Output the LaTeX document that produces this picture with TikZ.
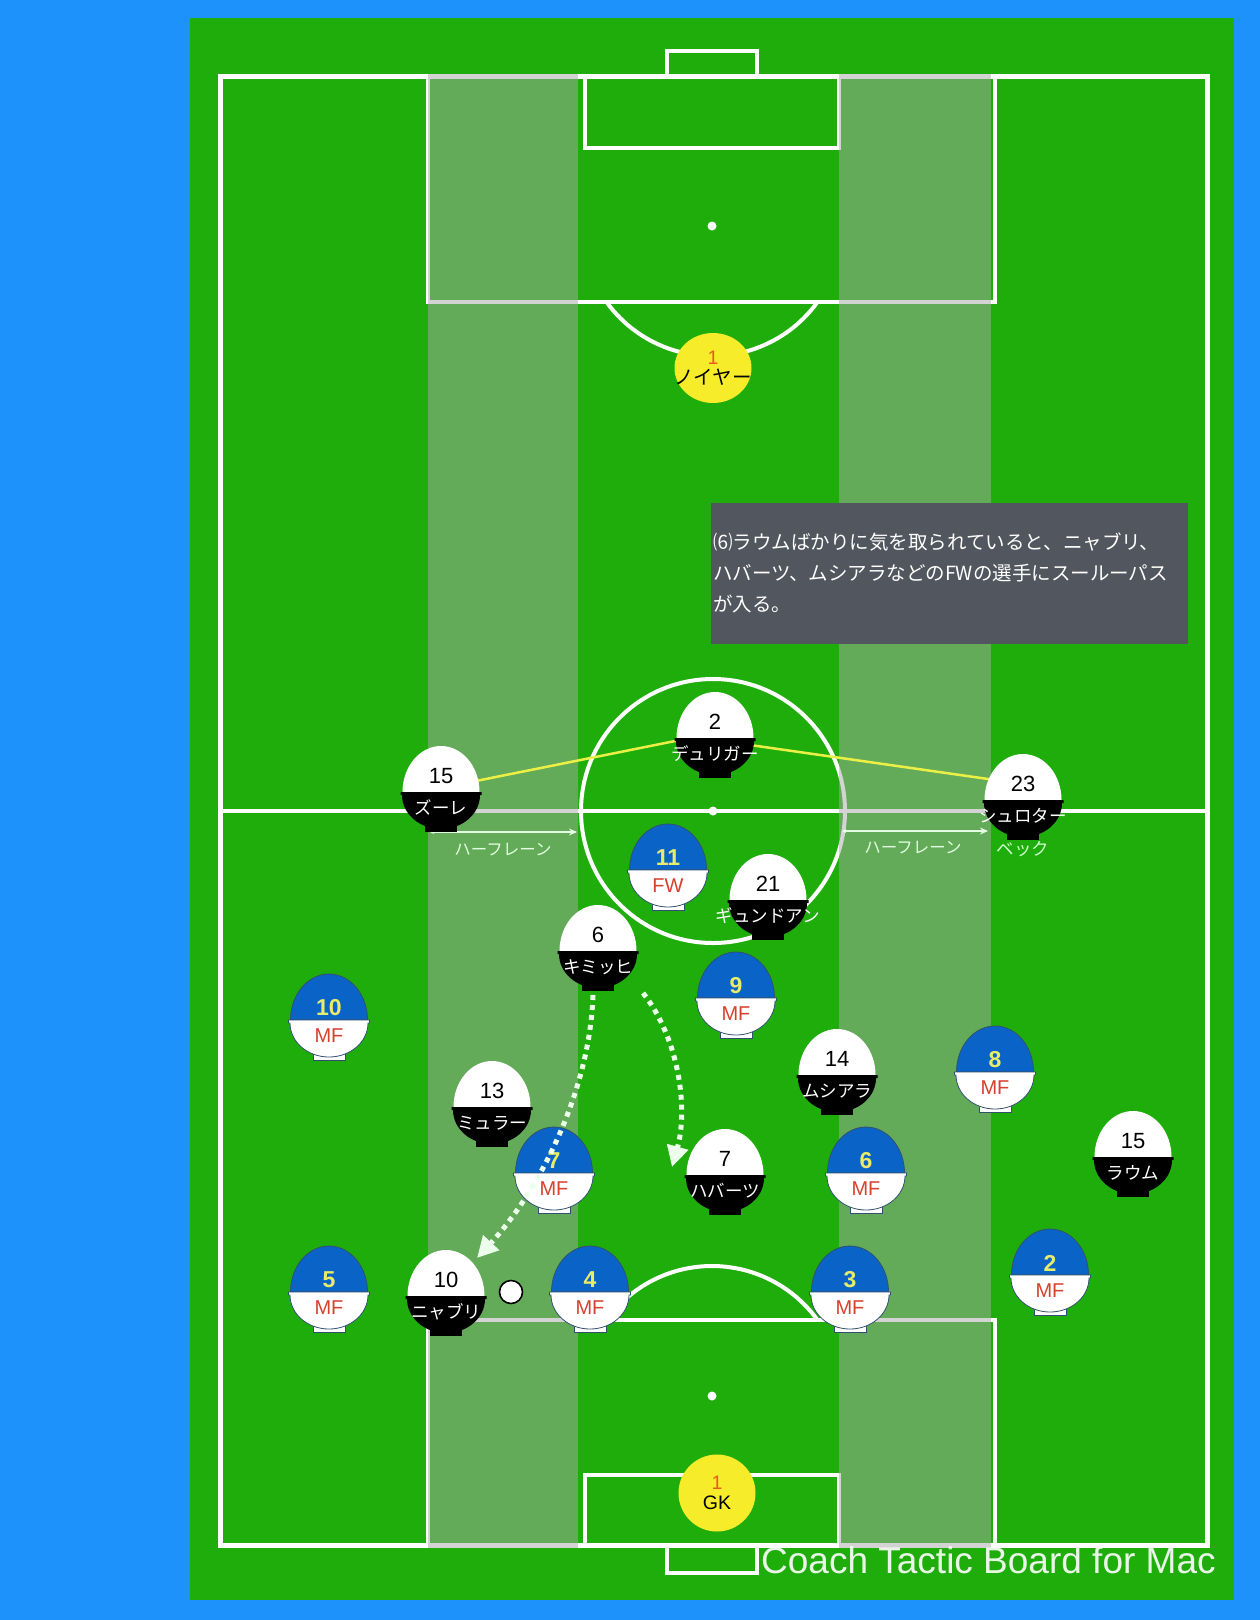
\documentclass[tikz,border=0pt]{standalone}
\usepackage{fontspec}
\setmainfont{Liberation Sans}
\newfontfamily\jp{Noto Sans CJK JP}
\usetikzlibrary{arrows.meta}

\definecolor{board}{RGB}{28,146,250}
\definecolor{pitch}{RGB}{31,173,11}
\definecolor{lanegrey}{RGB}{168,168,168}
\definecolor{teamblue}{RGB}{10,100,200}
\definecolor{tokenedge}{RGB}{50,80,110}
\definecolor{numyellow}{RGB}{232,236,104}
\definecolor{posred}{RGB}{214,64,44}
\definecolor{keeperyellow}{RGB}{246,236,42}
\definecolor{keeperred}{RGB}{232,90,30}
\definecolor{notegrey}{RGB}{82,86,94}
\definecolor{linkyellow}{RGB}{236,240,70}

% bowl shaped player token, #1 = coordinate on the rim
\newcommand\tokenbody[4]{%
  \path[fill=#2,draw=#4,line width=0.8pt] ([xshift=38.5pt]#1) arc[start angle=0,end angle=180,x radius=38.5pt,y radius=46pt] -- cycle;
  \path[fill=#3,draw=#4,line width=0.8pt] ([shift={(-16pt,-31pt)}]#1) rectangle ([shift={(16pt,-40pt)}]#1);
  \path[fill=#3,draw=#4,line width=0.8pt] ([xshift=-40.5pt]#1) -- ([xshift=40.5pt]#1) -- ([shift={(40.5pt,-3pt)}]#1)
    -- ([shift={(39pt,-3pt)}]#1) arc[start angle=0,end angle=-180,x radius=39pt,y radius=34pt] -- ([shift={(-40.5pt,-3pt)}]#1) -- cycle;
}
\newcommand\opponent[4]{%
  \coordinate (#1) at #2;
  \tokenbody{#1}{white}{black}{none}
  \node[oppnum] (#1-num) at ([yshift=16pt]#1) {#3};
  \node[oppname] (#1-name) at ([yshift=-22pt]#1) {#4};
}
\newcommand\teammate[4]{%
  \coordinate (#1) at #2;
  \tokenbody{#1}{teamblue}{white}{tokenedge}
  \node[ownnum] (#1-num) at ([yshift=12pt]#1) {#3};
  \node[ownpos] (#1-pos) at ([yshift=-16pt]#1) {#4};
}

\begin{document}
\begin{tikzpicture}[x=1pt,y=-1pt,
    fieldline/.style={draw=white,line width=4pt},
    halflane/.style={fill=lanegrey,opacity=0.5},
    notebox/.style={fill=notegrey,text=white,minimum width=477pt,minimum height=141pt,
      text width=473pt,inner xsep=2pt,align=left,font=\jp\fontsize{19.5}{31}\selectfont},
    oppnum/.style={inner sep=0pt,text=black,font=\fontsize{22}{24}\selectfont},
    oppname/.style={inner sep=0pt,anchor=base,text=white,font=\jp\fontsize{17.5}{27}\selectfont},
    ownnum/.style={inner sep=0pt,text=numyellow,font=\bfseries\fontsize{23}{24}\selectfont},
    ownpos/.style={inner sep=0pt,text=posred,font=\fontsize{20}{22}\selectfont},
    keepertext/.style={inner sep=0pt,align=center,font=\fontsize{19.5}{20}\selectfont},
    matchball/.style={circle,draw=black,fill=white,line width=1.6pt,minimum size=23pt,inner sep=0pt},
    linkline/.style={draw=linkyellow,line width=2.5pt},
    lanearrow/.style={draw=white!90!green,line width=1.3pt,{Stealth[length=4pt,width=4pt]}-{Stealth[length=8pt,width=7pt]}},
    lanelabel/.style={inner sep=0pt,text=white!88!green,font=\jp\fontsize{16.5}{18}\selectfont},
    passarrow/.style={draw=white!92!green,line width=5pt,dash pattern=on 5pt off 5pt,-{Triangle[length=21pt,width=21pt]}},
    credit/.style={inner sep=0pt,anchor=base west,text=white,text opacity=0.9,font=\fontsize{37}{40}\selectfont}]
  \useasboundingbox (0,0) rectangle (1260,1620);
  % board and pitch
  \fill[board] (0,0) rectangle (1260,1620);
  \fill[pitch] (190,18) rectangle (1234,1600);
  % markings
  \coordinate (topspot) at (712,226);
  \coordinate (botspot) at (712,1396);
  \coordinate (centre) at (713,811);
  \draw[fieldline,line width=5pt] (220,76.5) rectangle (1207,1545);
  \draw[fieldline,line width=3.5pt] (667,76.5) -- (667,51) -- (757,51) -- (757,76.5);
  \draw[fieldline,line width=3.5pt] (667,1545) -- (667,1573) -- (757,1573) -- (757,1545);
  \draw[fieldline] (428,76.5) rectangle (995,302);
  \draw[fieldline] (585,76.5) rectangle (839,148);
  \draw[fieldline] (428,1545) rectangle (995,1320);
  \draw[fieldline] (585,1545) rectangle (839,1475);
  \draw[fieldline] ([shift={(-36:130pt)}]topspot) arc[start angle=-36,end angle=-144,radius=130pt];
  \draw[fieldline] ([shift={(36:130pt)}]botspot) arc[start angle=36,end angle=144,radius=130pt];
  \draw[fieldline] (220,811) -- (1207,811);
  \draw[fieldline] (centre) circle[radius=132pt];
  \fill[white] (topspot) circle[radius=4.5pt];
  \fill[white] (botspot) circle[radius=4.5pt];
  \fill[white] (centre) circle[radius=4.5pt];
  % half lanes
  \fill[halflane] (428,74) rectangle (578,1548);
  \fill[halflane] (839,74) rectangle (991,1548);
  % note
  \node[notebox] (note) at (949.5,573) {⑹ラウムばかりに気を取られていると、ニャブリ、\\ハバーツ、ムシアラなどのFWの選手にスールーパス\\が入る。};
  % lane widths
  \coordinate (laneL-a) at (430,832);
  \coordinate (laneL-b) at (577,832);
  \coordinate (laneR-a) at (842,831);
  \coordinate (laneR-b) at (988,831);
  \draw[lanearrow] (laneL-a) -- (laneL-b);
  \draw[lanearrow] (laneR-a) -- (laneR-b);
  \node[lanelabel] (laneL) at (503,850) {ハーフレーン};
  \node[lanelabel] (laneR) at (913,848) {ハーフレーン};
  % back line links
  \coordinate (zure) at (441,792);
  \coordinate (duri) at (715,738);
  \coordinate (schl) at (1023,800);
  \draw[linkline] ([yshift=4pt]zure) -- ([yshift=5pt]duri);
  \draw[linkline] ([yshift=-2pt]duri) -- ([yshift=16pt]schl);
  % keepers
  \fill[keeperyellow] (713,368) ellipse[x radius=38.5pt,y radius=35pt];
  \node[keepertext] (neuer) at (713,368) {\textcolor{keeperred}{1}\\{\jp ノイヤー}};
  \fill[keeperyellow] (717,1493) circle[radius=38.5pt];
  \node[keepertext] (gk) at (717,1493) {\textcolor{keeperred}{1}\\GK};
  % opponents
  \opponent{zure}{(441,792)}{15}{ズーレ}
  \opponent{duri}{(715,738)}{2}{デュリガー}
  \opponent{schl}{(1023,800)}{23}{シュロター}
  \node[oppname,text=white!80!green] (schl-name2) at ([yshift=-55pt]schl) {ベック};
  \opponent{gund}{(768,900)}{21}{ギュンドアン}
  \opponent{kimm}{(598,951)}{6}{キミッヒ}
  \opponent{musi}{(837,1075)}{14}{ムシアラ}
  \opponent{muel}{(492,1107)}{13}{ミュラー}
  \opponent{havr}{(725,1175)}{7}{ハバーツ}
  \opponent{raum}{(1133,1157)}{15}{ラウム}
  \opponent{gnab}{(446,1296)}{10}{ニャブリ}
  % own team
  \teammate{fw11}{(668,870)}{11}{FW}
  \teammate{mf9}{(736,998)}{9}{MF}
  \teammate{mf10}{(329,1020)}{10}{MF}
  \teammate{mf8}{(995,1072)}{8}{MF}
  \teammate{mf7}{(554,1173)}{7}{MF}
  \teammate{mf6}{(866,1173)}{6}{MF}
  \teammate{mf2}{(1050,1275)}{2}{MF}
  \teammate{mf5}{(329,1292)}{5}{MF}
  \teammate{mf4}{(590,1292)}{4}{MF}
  \teammate{mf3}{(850,1292)}{3}{MF}
  \node[matchball] (ball) at (511,1292) {};
  % passes
  \draw[passarrow] ([shift={(-5pt,-44pt)}]kimm) .. controls +(-3,95) and +(63,-68) .. ([shift={(31pt,38pt)}]gnab);
  \draw[passarrow] ([shift={(45pt,-42pt)}]kimm) .. controls +(37,47) and +(16,-57) .. ([shift={(-53pt,8pt)}]havr);
  % watermark
  \node[credit] (credit) at (761,1573) {Coach Tactic Board for Mac};
\end{tikzpicture}
\end{document}
